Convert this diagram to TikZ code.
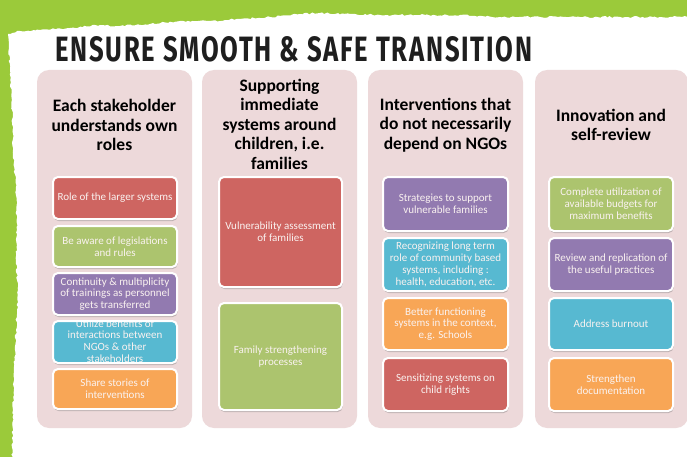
\documentclass[tikz,border=0pt]{standalone}
\usepackage{fontspec}
\setmainfont{Carlito}
\newfontfamily\titlefont{Fira Sans}[LetterSpace=7]
\usetikzlibrary{shadows,decorations.pathmorphing}
\definecolor{leaf}{RGB}{155,202,58}
\definecolor{panelpink}{RGB}{237,217,218}
\definecolor{bred}{RGB}{206,101,97}
\definecolor{bgreen}{RGB}{172,196,110}
\definecolor{bpurple}{RGB}{146,122,176}
\definecolor{bblue}{RGB}{87,185,209}
\definecolor{borange}{RGB}{248,166,86}
\definecolor{boxtext}{RGB}{250,242,240}
\definecolor{titleink}{RGB}{30,30,30}
\tikzset{
  panel/.style={fill=panelpink, rounded corners=12pt, minimum width=155pt, minimum height=358pt, inner sep=0pt},
  header/.style={font=\fontsize{17.5}{19.5}\selectfont\bfseries, align=center, text=black},
  itembox/.style={draw=white, line width=2pt, rounded corners=5pt, minimum width=124pt, inner sep=2pt,
     align=center, text=boxtext, font=\fontsize{11}{11.8}\selectfont,
     drop shadow={shadow xshift=0.6pt, shadow yshift=-2pt, opacity=0.35, fill=black!60}},
}
\begin{document}
\begin{tikzpicture}[x=1pt,y=-1pt]
\useasboundingbox (0,0) rectangle (687,457);
\fill[leaf] (0,0) rectangle (687,457);
\pgfmathsetseed{7}
\fill[white, decorate, decoration={random steps, segment length=2.5pt, amplitude=0.9pt}]
  (700,16) -- (660,17) -- (620,17) -- (580,17) -- (540,17) -- (500,17) -- (460,15) -- (420,15)
  -- (380,15) -- (350,14) -- (320,13) -- (300,14) -- (270,17) -- (240,19) -- (210,21) -- (180,21)
  -- (150,24) -- (120,26) -- (100,25) -- (70,28) -- (40,30) -- (20,31) -- (8,34)
  -- (10,70) -- (12,110) -- (13,150) -- (16,190) -- (17,230) -- (16,260) -- (18,290) -- (16,330)
  -- (14,370) -- (13,410) -- (12,470) -- (700,470) -- cycle;

\node[anchor=south west, inner sep=0pt, text=titleink] (title) at (55,62)
  {\resizebox{477pt}{25pt}{\titlefont\bfseries ENSURE SMOOTH \& SAFE TRANSITION}};

% panels
\node[panel] (p1) at (114.5,249) {};
\node[panel] (p2) at (279.5,249) {};
\node[panel] (p3) at (445.5,249) {};
\node[panel, minimum width=153pt] (p4) at (611.5,249) {};

% headers
\node[header] (h1) at (114.5,125) {Each stakeholder\\understands own\\roles};
\node[header] (h2) at (279.5,124) {Supporting\\immediate\\systems around\\children, i.e.\\families};
\node[header] (h3) at (445.5,125) {Interventions that\\do not necessarily\\depend on NGOs};
\node[header] (h4) at (611,125) {Innovation and\\self-review};

% column 1
\node[itembox, fill=bred, minimum height=42pt] (a1) at (115,198) {Role of the larger systems};
\node[itembox, fill=bgreen, minimum height=41pt] (a2) at (115,246.5) {Be aware of legislations\\and rules};
\node[itembox, fill=bpurple, minimum height=42pt] (a3) at (115,294) {Continuity \& multiplicity\\of trainings as personnel\\gets transferred};
\node[itembox, fill=bblue, minimum height=42pt,
  path picture={\node[text=boxtext, align=center, font=\fontsize{11}{11.8}\selectfont] at ([yshift=1pt]path picture bounding box.center)
     {Utilize benefits of\\interactions between\\NGOs \& other\\stakeholders};}] (a4) at (115,342) {};
\node[itembox, fill=borange, minimum height=40pt] (a5) at (115,389) {Share stories of\\interventions};

% column 2
\node[itembox, fill=bred, minimum width=123pt, minimum height=110pt] (b1) at (280.5,232) {Vulnerability assessment\\of families};
\node[itembox, fill=bgreen, minimum width=123pt, minimum height=107pt] (b2) at (280.5,356.5) {Family strengthening\\processes};

% column 3
\node[itembox, fill=bpurple, minimum width=125pt, minimum height=54pt] (c1) at (445.5,204) {Strategies to support\\vulnerable families};
\node[itembox, fill=bblue, minimum width=125pt, minimum height=53pt] (c2) at (445.5,264.5) {Recognizing long term\\role of community based\\systems, including :\\health, education, etc.};
\node[itembox, fill=borange, minimum width=125pt, minimum height=52pt] (c3) at (445.5,324) {Better functioning\\systems in the context,\\e.g. Schools};
\node[itembox, fill=bred, minimum width=125pt, minimum height=53pt] (c4) at (445.5,384.5) {Sensitizing systems on\\child rights};

% column 4
\node[itembox, fill=bgreen, minimum height=54pt] (d1) at (611,204) {Complete utilization of\\available budgets for\\maximum benefits};
\node[itembox, fill=bpurple, minimum height=53pt] (d2) at (611,264.5) {Review and replication of\\the useful practices};
\node[itembox, fill=bblue, minimum height=52pt] (d3) at (611,324) {Address burnout};
\node[itembox, fill=borange, minimum height=53pt] (d4) at (611,384.5) {Strengthen\\documentation};
\end{tikzpicture}
\end{document}
